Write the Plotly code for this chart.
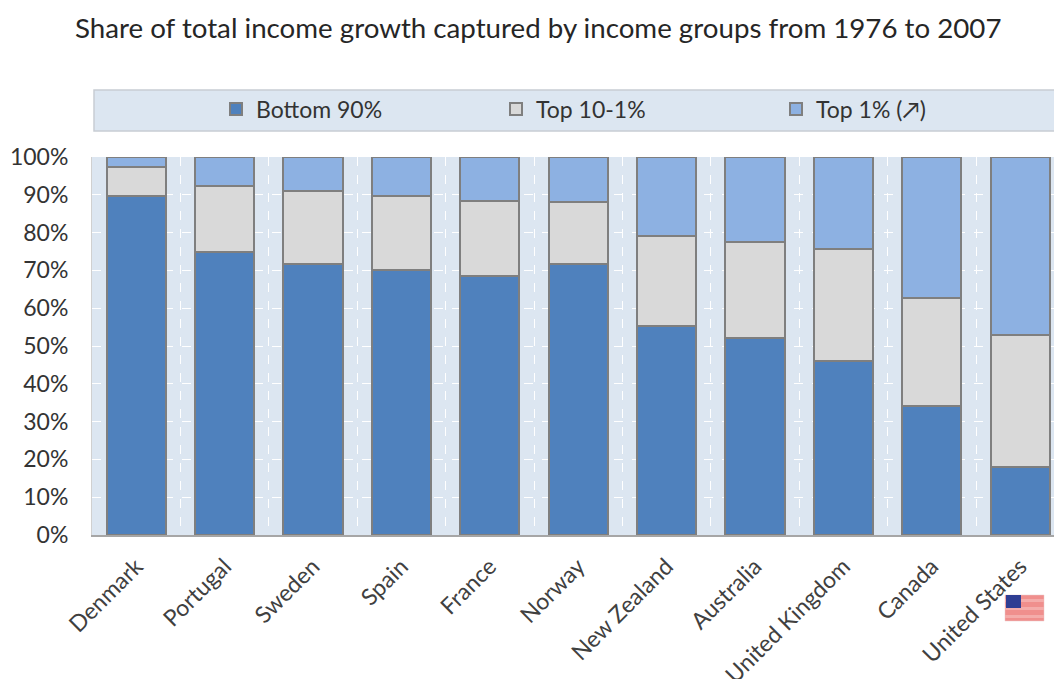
import plotly.graph_objects as go

countries = ["Denmark", "Portugal", "Sweden", "Spain", "France", "Norway",
             "New Zealand", "Australia", "United Kingdom", "Canada", "United States"]
bottom_90 = [89.7, 75.0, 71.7, 70.0, 68.5, 71.7, 55.2, 52.0, 46.0, 34.0, 18.0]
top_10_1 = [7.6, 17.3, 19.3, 19.7, 19.8, 16.3, 23.8, 25.5, 29.7, 28.7, 35.0]
top_1 = [2.7, 7.7, 9.0, 10.3, 11.7, 12.0, 21.0, 22.5, 24.3, 37.3, 47.0]
y_ticks = [0, 10, 20, 30, 40, 50, 60, 70, 80, 90, 100]
y_labels = ["0%", "10%", "20%", "30%", "40%", "50%", "60%", "70%", "80%", "90%", "100%"]
series_names = ["Bottom 90%", "Top 10-1%", "Top 1% (↗)"]
series_colors = ["#4F81BD", "#D9D9D9", "#8DB1E2"]
title_text = "Share of total income growth captured by income groups from 1976 to 2007"

W, H = 1054, 679
L, R, T, B = 92, 1054, 157, 535
FONT = "Lato, Carlito, 'Open Sans', sans-serif"
px = lambda v: (v - L) / (R - L)
py = lambda v: (B - v) / (B - T)

fig = go.Figure()
for name, vals, col in zip(series_names, [bottom_90, top_10_1, top_1], series_colors):
    fig.add_trace(go.Bar(x=countries, y=vals, name=name,
                         marker=dict(color=col, line=dict(color="#7F7F7F", width=2))))

shapes = [dict(type="rect", xref="paper", yref="paper", layer="below",
               x0=px(94), x1=px(1056), y0=py(131), y1=py(90),
               fillcolor="#DCE6F1", line=dict(color="#C8CDD3", width=1.5))]
# flag next to the last label
shapes.append(dict(type="rect", xref="paper", yref="paper", x0=px(1005), x1=px(1044),
                   y0=py(621), y1=py(595), fillcolor="#F08F8D",
                   line=dict(color="#E8C8C8", width=0.5)))
for top in (599, 607, 615):
    shapes.append(dict(type="rect", xref="paper", yref="paper", x0=px(1005), x1=px(1044),
                       y0=py(top + 3), y1=py(top), fillcolor="#F4ACAA", line=dict(width=0)))
shapes.append(dict(type="rect", xref="paper", yref="paper", x0=px(1006), x1=px(1021),
                   y0=py(608), y1=py(595), fillcolor="#2F3E93", line=dict(width=0)))

fig.update_layout(
    width=W, height=H, barmode="stack", bargap=0.33,
    margin=dict(l=L, r=W - R, t=T, b=H - B, autoexpand=False),
    paper_bgcolor="white", plot_bgcolor="#DCE6F1",
    font=dict(family=FONT, color="#404040"),
    shapes=shapes,
    annotations=[dict(text=title_text, xref="paper", yref="paper", x=px(538), y=py(27.5),
                      xanchor="center", yanchor="middle", showarrow=False,
                      font=dict(size=27.7, color="#262626", family=FONT))],
    legend=dict(orientation="h", x=px(216), y=py(109), xanchor="left", yanchor="middle",
                bgcolor="rgba(0,0,0,0)", borderwidth=0, entrywidth=235, entrywidthmode="pixels",
                traceorder="normal", font=dict(size=23, color="#333333", family=FONT)),
    xaxis=dict(range=[-0.5, -0.5 + (R - L) / 88.4], tickson="boundaries", showgrid=True,
               gridcolor="white", griddash="dash", gridwidth=1, tickangle=-45, ticks="",
               showline=True, linecolor="#A6A6A6", linewidth=2, ticklabelstandoff=7,
               tickfont=dict(size=23, color="#404040", family=FONT), fixedrange=True),
    yaxis=dict(range=[0, 100], tickmode="array", tickvals=y_ticks, ticktext=y_labels, showgrid=True,
               gridcolor="white", griddash="dash", gridwidth=1, ticks="", zeroline=False,
               showline=True, linecolor="#D0D0D0", linewidth=1, mirror=True, ticklabelstandoff=18,
               tickfont=dict(size=23, color="#333333", family=FONT), fixedrange=True),
)
fig.write_html("out.html", config={"displayModeBar": False},
               post_script="document.body.style.margin='0';document.body.style.overflow='hidden';")
